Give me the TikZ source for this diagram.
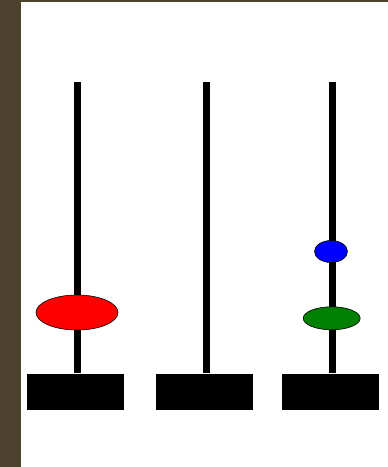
\documentclass[tikz,border=0pt]{standalone}
\usetikzlibrary{positioning}
\usetikzlibrary{shapes.geometric}

\definecolor{frame}{RGB}{76,66,46}
\definecolor{diskred}{RGB}{255,0,0}
\definecolor{diskblue}{RGB}{0,0,255}
\definecolor{diskgreen}{RGB}{0,128,0}

\begin{document}
\begin{tikzpicture}[x=1pt, y=-1pt,
    base/.style={rectangle, fill=black, minimum width=97pt, minimum height=36pt, inner sep=0pt},
    disk/.style={ellipse, draw=black, line width=0.6pt, inner sep=0pt}]

        % background with textured border
        \fill[frame] (0,0) rectangle (388,467);
        \fill[white] (21,2) rectangle (388,467);
        \useasboundingbox (0,0) rectangle (388,467);

        \def\poletop{82} % y of the pole tops

        % bases and poles
        \foreach \i/\bx/\px in {1/75.5/77.5, 2/204.7/206.7, 3/330.3/332} {
          \node[base] (base\i) at (\bx, 391.5) {};
          \coordinate (top\i) at (\px, \poletop);
          \draw[line width=7pt] (top\i) -- (top\i |- base\i.north);
        }

        % disks
        \node[disk, fill=diskred, minimum width=82pt, minimum height=35pt] (red) at (77, 312.5) {};
        \node[disk, fill=diskgreen, minimum width=57pt, minimum height=23pt] (green) at (331.7, 318.3) {};
        \node[disk, fill=diskblue, minimum width=33pt, minimum height=22pt] (blue) at (331, 251.5) {};

\end{tikzpicture}
\end{document}
